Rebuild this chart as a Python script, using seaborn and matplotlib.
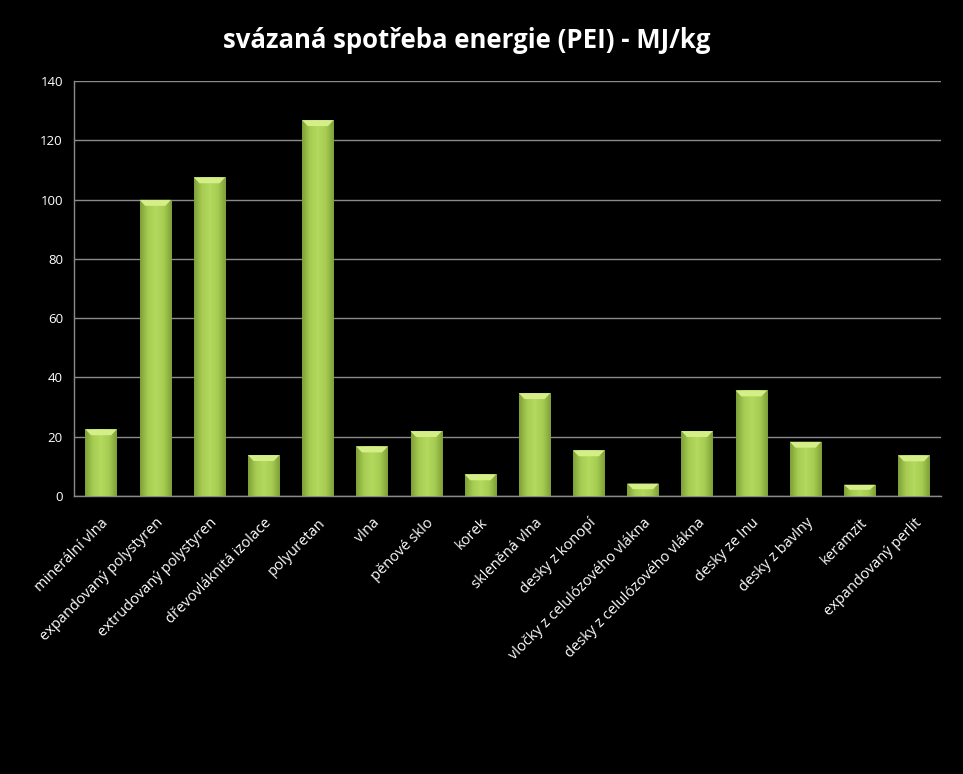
import matplotlib
matplotlib.use("Agg")
import matplotlib.pyplot as plt
import seaborn as sns
import numpy as np
import pandas as pd
from matplotlib.colors import LinearSegmentedColormap

categories = ["minerální vlna", "expandovaný polystyren", "extrudovaný polystyren",
              "dřevovláknitá izolace", "polyuretan", "vlna", "pěnové sklo", "korek",
              "skleněná vlna", "desky z konopí", "vločky z celulózového vlákna",
              "desky z celulózového vlákna", "desky ze lnu", "desky z bavlny",
              "keramzit", "expandovaný perlit"]
values = [22.5, 99.9, 107.5, 13.8, 126.8, 16.7, 21.9, 7.3, 34.7, 15.4, 4.2, 21.9,
          35.6, 18.3, 3.8, 13.7]
y_ticks = [0, 20, 40, 60, 80, 100, 120, 140]
title = "svázaná spotřeba energie (PEI) - MJ/kg"

sns.set_theme(style="dark")
plt.rcParams['font.family'] = ['Open Sans', 'DejaVu Sans']

fig = plt.figure(figsize=(9.63, 7.74), dpi=100, facecolor="black")
ax = fig.add_axes([74/963, 1 - 496/774, (941-74)/963, (496-81)/774])
ax.set_facecolor("black")

df = pd.DataFrame({"cat": categories, "val": values})
sns.barplot(data=df, x="cat", y="val", ax=ax, color="#9cc44a", width=0.58,
            saturation=1, edgecolor="none", zorder=3)

# gradient shading over each bar
cmap = LinearSegmentedColormap.from_list("g", ["#7e9e38", "#a6cd52", "#b3d95e", "#a6cd52", "#7e9e38"])
grad = np.linspace(0, 1, 256).reshape(1, -1)
for p in ax.patches:
    x0, y0 = p.get_x(), p.get_y()
    w, h = p.get_width(), p.get_height()
    im = ax.imshow(grad, extent=[x0, x0 + w, y0, y0 + h], cmap=cmap, aspect="auto", zorder=4)
    im.set_clip_path(p)
    # light bevel at top
    bev = min(2.0, h * 0.45)
    ax.fill([x0, x0 + w, x0 + w * 0.82, x0 + w * 0.18], [h, h, h - bev, h - bev],
            color="#d4ee88", zorder=5, lw=0)

ax.set_ylim(0, 140)
ax.set_xlim(-0.5, len(categories) - 0.5)
ax.set_yticks(y_ticks)
ax.set_yticklabels([str(t) for t in y_ticks], color="white", fontsize=9.5)
ax.yaxis.grid(True, color="#8a8a8a", lw=1)
ax.xaxis.grid(False)
ax.set_axisbelow(True)
for s in ["top", "right"]:
    ax.spines[s].set_visible(False)
for s in ["left", "bottom"]:
    ax.spines[s].set_visible(True)
    ax.spines[s].set_color("#8a8a8a")
    ax.spines[s].set_linewidth(1)
ax.tick_params(axis="y", length=0, pad=8)
ax.tick_params(axis="x", length=0, pad=14)
ax.set_xticks(range(len(categories)))
ax.set_xticklabels(categories, rotation=45, ha="right", rotation_mode="anchor",
                   color="white", fontsize=10.5)
ax.set_xlabel("")
ax.set_ylabel("")

fig.text(0.485, 1 - 40/774, title, ha="center", va="center", color="white",
         fontsize=18.5, fontweight="bold")

fig.savefig("out.png", dpi=100, facecolor="black")
